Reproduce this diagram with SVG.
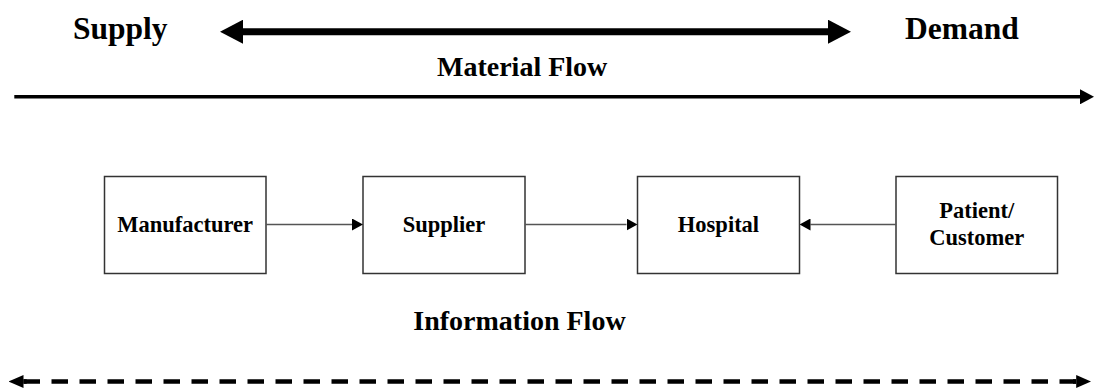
<svg xmlns="http://www.w3.org/2000/svg" width="1095" height="389" viewBox="0 0 1095 389">
  <style>
    text { font-family: "Liberation Serif", "Times New Roman", serif; font-weight: bold; fill: #000; }
    .title { font-size: 31.5px; }
    .flow { font-size: 28px; }
    .label { font-size: 22.5px; text-anchor: middle; }
    .box { fill: #fff; stroke: #333; stroke-width: 1.5; }
    .link { fill: none; stroke: #555; stroke-width: 1.6; }
  </style>
  <defs>
    <marker id="headBig" markerUnits="userSpaceOnUse" viewBox="0 0 23 24" markerWidth="23" markerHeight="24" refX="0" refY="12" orient="auto-start-reverse">
      <path d="M0,0 L23,12 L0,24 Z" fill="#000"/>
    </marker>
    <marker id="headMid" markerUnits="userSpaceOnUse" viewBox="0 0 14 15" markerWidth="14" markerHeight="15" refX="0" refY="7.5" orient="auto-start-reverse">
      <path d="M0,0 L14,7.5 L0,15 Z" fill="#000"/>
    </marker>
    <marker id="headDash" markerUnits="userSpaceOnUse" viewBox="0 0 15 13" markerWidth="15" markerHeight="13" refX="0" refY="6.5" orient="auto-start-reverse">
      <path d="M0,0 L15,6.5 L0,13 Z" fill="#000"/>
    </marker>
    <marker id="headSmall" markerUnits="userSpaceOnUse" viewBox="0 0 11 12" markerWidth="11" markerHeight="12" refX="0" refY="6" orient="auto">
      <path d="M0,0 L11,6 L0,12 Z" fill="#000"/>
    </marker>
  </defs>

  <!-- headings -->
  <text class="title" x="73" y="39">Supply</text>
  <text class="title" x="905" y="39">Demand</text>
  <text class="flow" x="437" y="75.5">Material Flow</text>
  <text class="flow" x="413.3" y="330">Information Flow</text>

  <!-- nodes -->
  <g id="manufacturer">
    <rect class="box" x="104.5" y="176.5" width="161.5" height="97"/>
    <text class="label" x="185.2" y="232.3">Manufacturer</text>
  </g>
  <g id="supplier">
    <rect class="box" x="363" y="176.5" width="162" height="97"/>
    <text class="label" x="444" y="232.3">Supplier</text>
  </g>
  <g id="hospital">
    <rect class="box" x="637.5" y="176.5" width="162" height="97"/>
    <text class="label" x="718.5" y="232.3">Hospital</text>
  </g>
  <g id="patient">
    <rect class="box" x="896" y="176.5" width="161.5" height="97"/>
    <text class="label" x="976.8" y="218.3">Patient/</text>
    <text class="label" x="976.8" y="245">Customer</text>
  </g>

  <!-- connectors -->
  <g id="connectors">
    <line x1="243" y1="31.7" x2="828" y2="31.7" stroke="#000" stroke-width="7" marker-start="url(#headBig)" marker-end="url(#headBig)"/>
    <line x1="14.3" y1="96.8" x2="1080" y2="96.8" stroke="#000" stroke-width="3.5" marker-end="url(#headMid)"/>
    <line class="link" x1="266" y1="224.5" x2="352" y2="224.5" marker-end="url(#headSmall)"/>
    <line class="link" x1="525" y1="224.5" x2="626.5" y2="224.5" marker-end="url(#headSmall)"/>
    <line class="link" x1="896" y1="224.5" x2="810.5" y2="224.5" marker-end="url(#headSmall)"/>
    <line x1="23.5" y1="381.5" x2="1076.5" y2="381.5" stroke="#000" stroke-width="4.5" stroke-dasharray="16.5 11.5"/>
    <line x1="26.7" y1="381.5" x2="23.5" y2="381.5" stroke="#000" stroke-width="4.5" marker-end="url(#headDash)"/>
    <line x1="1073" y1="381.5" x2="1076.2" y2="381.5" stroke="#000" stroke-width="4.5" marker-end="url(#headDash)"/>
  </g>
</svg>
